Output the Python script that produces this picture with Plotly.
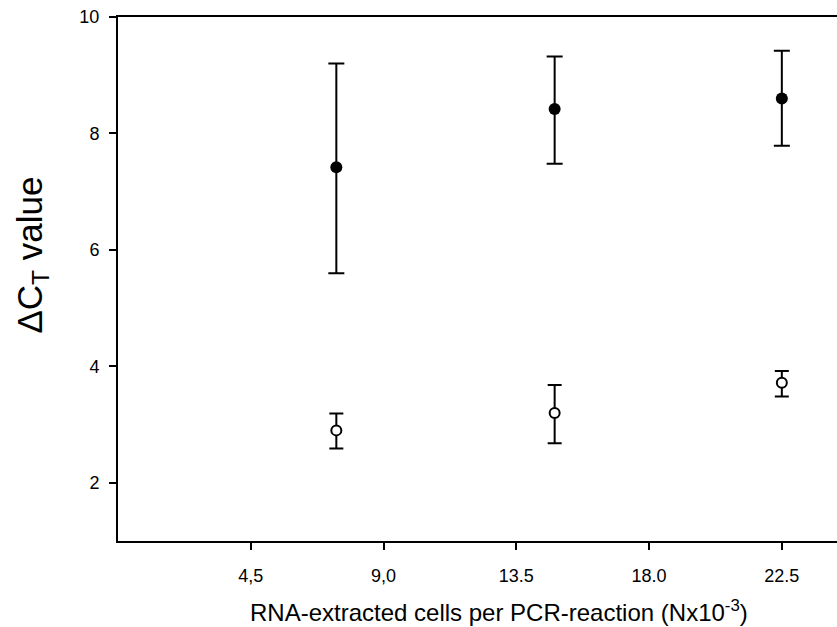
import plotly.graph_objects as go

# Data
x_vals = [7.4, 14.8, 22.5]
filled_y = [7.42, 8.42, 8.60]
filled_up = [1.78, 0.90, 0.82]
filled_down = [1.82, 0.94, 0.81]
open_y = [2.90, 3.20, 3.72]
open_up = [0.29, 0.48, 0.20]
open_down = [0.31, 0.52, 0.24]

x_tickvals = [4.5, 9.0, 13.5, 18.0, 22.5]
x_ticktext = ["4,5", "9,0", "13.5", "18.0", "22.5"]
y_tickvals = [2, 4, 6, 8, 10]

FONT = "Liberation Sans, Arial, sans-serif"

fig = go.Figure()
fig.add_trace(go.Scatter(
    x=x_vals, y=filled_y, mode="markers",
    marker=dict(size=12, color="black", line=dict(width=0)),
    error_y=dict(type="data", symmetric=False, array=filled_up, arrayminus=filled_down,
                 color="black", thickness=2, width=8),
    showlegend=False,
))
fig.add_trace(go.Scatter(
    x=x_vals, y=open_y, mode="markers",
    marker=dict(size=10, color="white", line=dict(width=2, color="black")),
    error_y=dict(type="data", symmetric=False, array=open_up, arrayminus=open_down,
                 color="black", thickness=2, width=7),
    showlegend=False,
))

fig.update_layout(
    width=837, height=627,
    margin=dict(l=118, r=0, t=17, b=86),
    paper_bgcolor="white", plot_bgcolor="white",
    font=dict(family=FONT, color="black"),
    xaxis=dict(
        range=[0, 24.37], showgrid=False, zeroline=False,
        showline=True, linecolor="black", linewidth=2, mirror=True,
        ticks="outside", ticklen=7, tickwidth=2, tickcolor="black",
        tickvals=x_tickvals, ticktext=x_ticktext,
        tickfont=dict(size=18, family=FONT), ticklabelstandoff=10,
    ),
    yaxis=dict(
        range=[1, 10], showgrid=False, zeroline=False,
        showline=True, linecolor="black", linewidth=2,
        ticks="outside", ticklen=7, tickwidth=2, tickcolor="black",
        tickvals=y_tickvals,
        tickfont=dict(size=18, family=FONT), ticklabelstandoff=6,
    ),
    annotations=[
        dict(text="ΔC<sub>T</sub> value", xref="paper", yref="paper",
             x=-0.12, y=0.546, xanchor="center", yanchor="middle",
             textangle=-90, showarrow=False, font=dict(size=35, family=FONT)),
        dict(text="RNA-extracted cells per PCR-reaction (Nx10<sup>-3</sup>)",
             xref="paper", yref="paper", x=0.53, y=-0.134,
             xanchor="center", yanchor="middle", showarrow=False,
             font=dict(size=24, family=FONT)),
    ],
)

fig.write_html("out.html")
